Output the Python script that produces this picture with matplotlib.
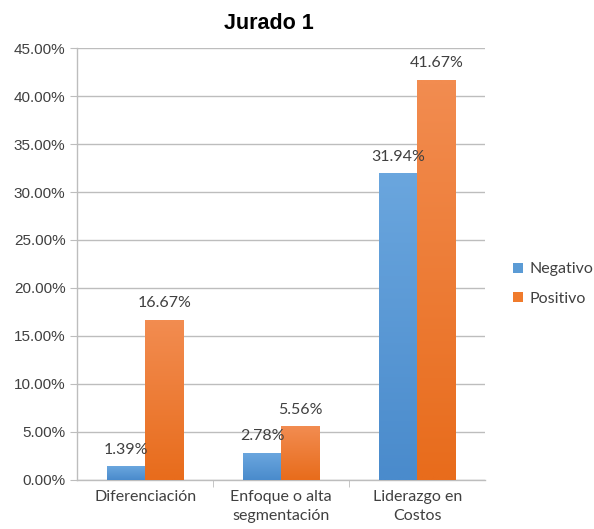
import matplotlib
matplotlib.use("Agg")
import matplotlib.pyplot as plt
import numpy as np
from matplotlib.ticker import FuncFormatter, FixedLocator
from matplotlib.colors import to_rgb

categories = ["Diferenciación", "Enfoque o alta\nsegmentación", "Liderazgo en\nCostos"]
negativo = [1.39, 2.78, 31.94]
positivo = [16.67, 5.56, 41.67]
series_names = ["Negativo", "Positivo"]
title = "Jurado 1"

fig = plt.figure(figsize=(5.94, 5.29), dpi=100)
ax = fig.add_axes([0.13, 0.093, 0.687, 0.816])

x = np.arange(len(categories))
w = 0.28
c_neg = "#5b9bd5"
c_pos = "#f07b2c"
b1 = ax.bar(x - w/2, negativo, w, color=c_neg, label=series_names[0], zorder=3)
b2 = ax.bar(x + w/2, positivo, w, color=c_pos, label=series_names[1], zorder=3)

def grad(bars, top_col, bot_col):
    t = np.array(to_rgb(top_col)); b = np.array(to_rgb(bot_col))
    for r in bars:
        x0, y0 = r.get_x(), r.get_y()
        ww, hh = r.get_width(), r.get_height()
        g = np.linspace(0, 1, 50)[:, None] * (t - b) + b
        ax.imshow(g[:, None, :], extent=[x0, x0 + ww, y0, y0 + hh], origin="lower",
                  aspect="auto", zorder=3.5, interpolation="bilinear")
grad(b1, "#6aa6de", "#4a8bcc")
grad(b2, "#f28c50", "#e86c1c")

lab_font = ["Lato", "DejaVu Sans"]
for bars, vals in ((b1, negativo), (b2, positivo)):
    for r, v in zip(bars, vals):
        ax.annotate(f"{v:.2f}%", (r.get_x() + r.get_width()/2, r.get_height()),
                    xytext=(0, 7), textcoords="offset points", ha="center", va="bottom",
                    fontsize=11.5, color="#404040", family=lab_font, zorder=5)

ax.set_xlim(-0.5, 2.5)
ax.set_ylim(0, 45)
ax.set_yticks(np.arange(0, 46, 5))
ax.yaxis.set_major_formatter(FuncFormatter(lambda v, p: f"{v:.2f}%"))
ax.set_xticks(x)
ax.set_xticklabels(categories, family=lab_font, fontsize=11.5, color="#404040", linespacing=1.5)
ax.tick_params(axis="x", length=0, pad=7)
ax.xaxis.set_minor_locator(FixedLocator([0.5, 1.5]))
ax.tick_params(axis="x", which="minor", length=5, color="#bdbdbd", direction="out")
ax.tick_params(axis="y", length=5, color="#bdbdbd", labelsize=11, labelcolor="#404040")
for lab in ax.get_yticklabels():
    lab.set_family(["Liberation Sans", "DejaVu Sans"])

ax.grid(axis="y", color="#bdbdbd", linewidth=1, zorder=0)
for s in ("top", "right"):
    ax.spines[s].set_visible(False)
for s in ("left", "bottom"):
    ax.spines[s].set_color("#bdbdbd")
    ax.spines[s].set_linewidth(1)

fig.text(0.453, 0.955, title, fontsize=15.5, fontweight="bold", ha="center", va="center",
         family=["Liberation Sans", "DejaVu Sans"])

leg = fig.legend(handles=[b1, b2], labels=series_names, loc="center left",
                 bbox_to_anchor=(0.84, 0.463), frameon=False,
                 prop={"family": lab_font, "size": 11.5}, handlelength=0.6, handleheight=0.6,
                 labelspacing=0.95, handletextpad=0.4)
for t in leg.get_texts():
    t.set_color("#404040")

fig.savefig("out.png", dpi=100)
